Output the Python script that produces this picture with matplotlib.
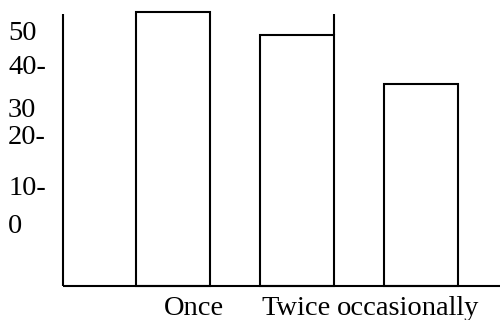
import matplotlib
matplotlib.use("Agg")
import matplotlib.pyplot as plt
import matplotlib.transforms as mtransforms

# values (scale given by the hand-placed axis labels)
categories = ["Once", "Twice", "occasionally"]
values = [54.7, 48.8, 36.0]
tick_labels = ["50", "40-", "30", "20-", "10-", "0"]
tick_values = [50, 41, 30, 23, 9.6, 0]

# layout
baseline = -16.3
axis_top = 54.3
axis_left = -0.885
axis_right = 2.64
bar_width = 0.6
label_x = [0.17, 0.99, 1.895]

plt.rcParams['font.family'] = ['Liberation Serif', 'DejaVu Serif']

fig = plt.figure(figsize=(5.01, 3.2), dpi=100)
ax = fig.add_axes([0, 0, 1, 1])
ax.set_xlim(-1.395, 2.645)
ax.set_ylim(-25.1, 57.8)

xs = list(range(len(categories)))
heights = [v - baseline for v in values]
ax.bar(xs, heights, bottom=baseline, width=bar_width,
       facecolor="white", edgecolor="black", linewidth=1.5, zorder=2)

# right edge of the second bar runs up to the top of the axis
ax.vlines(xs[1] + bar_width / 2, values[1], axis_top, color="black",
          linewidth=1.5, zorder=3)

# axis lines
ax.plot([axis_left, axis_left], [baseline, axis_top], color="black",
        linewidth=1.5, solid_capstyle="butt", zorder=3)
ax.plot([axis_left, axis_right], [baseline, baseline], color="black",
        linewidth=1.5, solid_capstyle="butt", zorder=3)

# y labels, left aligned at the figure edge
off = mtransforms.offset_copy(ax.transData, fig=fig, x=0, y=-6.8, units="points")
for lab, v in zip(tick_labels, tick_values):
    ax.text(-1.33, v, lab, transform=off, ha="left", va="baseline", fontsize=20.5)

# category labels under the axis
for lab, x in zip(categories, label_x):
    ax.text(x, -23.8, lab, ha="center", va="baseline", fontsize=20.5)

ax.set_axis_off()
fig.savefig("out.png", dpi=100)
